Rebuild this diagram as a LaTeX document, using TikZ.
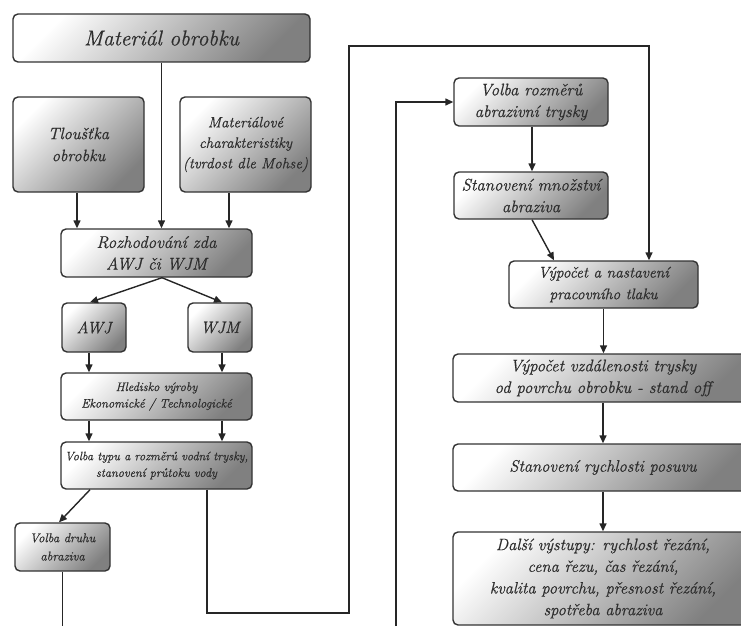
\documentclass[tikz,border=0pt]{standalone}
\usepackage{fontspec}
\setmainfont{Latin Modern Roman}[ItalicFeatures={FakeBold=0.6}]
\usetikzlibrary{arrows.meta,calc}
\newcommand\fsz[2]{\fontsize{#1}{#2}\selectfont\itshape}
\tikzset{
  box/.style={draw=black!80, line width=1.4pt, rounded corners=5pt,
    top color=white, bottom color=black!50, shading angle=45,
    align=center, inner sep=0pt, text=black!82},
  conn/.style={draw=black!85, line width=1.4pt},
  arr/.style={conn, -{Triangle[length=8pt,width=7pt]}}
}
\begin{document}
\begin{tikzpicture}[x=1pt,y=-1pt]
\useasboundingbox (0,0) rectangle (741,626);
\clip (0,0) rectangle (741,626);
% left column
\node[box, minimum width=297pt, minimum height=48pt, font=\fsz{21.5}{25}] (mat) at (161.5,38) {Materiál obrobku};
\node[box, minimum width=131pt, minimum height=95pt, font=\fsz{16.5}{22}] (tlo) at (78.5,144.5) {Tloušťka\\obrobku};
\node[box, minimum width=131pt, minimum height=95pt, font=\fsz{15}{20.5}] (char) at (245.5,144.5) {Materiálové\\charakteristiky\\(tvrdost dle Mohse)};
\node[box, minimum width=191pt, minimum height=48pt, font=\fsz{17}{21.6}] (roz) at (156.5,253) {Rozhodování zda\\AWJ či WJM};
\node[box, minimum width=64pt, minimum height=49pt, font=\fsz{16.5}{20}] (awj) at (94,327.5) {AWJ};
\node[box, minimum width=64pt, minimum height=49pt, font=\fsz{16.5}{20}] (wjm) at (220,327.5) {WJM};
\node[box, minimum width=191pt, minimum height=47pt, font=\fsz{12.4}{16.5}] (hled) at (156.5,396.5) {Hledisko výroby\\Ekonomické / Technologické};
\node[box, minimum width=191pt, minimum height=47pt, font=\fsz{12.3}{16.6}] (volt) at (156.5,465.5) {Volba typu a rozměrů vodní trysky,\\stanovení průtoku vody};
\node[box, minimum width=95pt, minimum height=48pt, font=\fsz{12.8}{18.3}] (vold) at (62.5,547) {Volba druhu\\abraziva};
% right column
\node[box, minimum width=154pt, minimum height=48pt, font=\fsz{16.8}{21.7}] (volr) at (531,102) {Volba rozměrů\\abrazivní trysky};
\node[box, minimum width=154pt, minimum height=47pt, font=\fsz{16.8}{21.7}] (stm) at (531,195.5) {Stanovení množství\\abraziva};
\node[box, minimum width=189pt, minimum height=47pt, font=\fsz{15.5}{21.7}] (vyp) at (603.5,284.5) {Výpočet a nastavení\\pracovního tlaku};
\node[box, minimum width=300pt, minimum height=48pt, font=\fsz{16.8}{21.7}] (vzd) at (603,378) {Výpočet vzdálenosti trysky\\od povrchu obrobku - stand off};
\node[box, minimum width=300pt, minimum height=47pt, font=\fsz{16.5}{21.7}] (ryc) at (603,467.5) {Stanovení rychlosti posuvu};
\node[box, minimum width=300pt, minimum height=93pt, font=\fsz{16.5}{21.7}] (dal) at (603,578.5) {Další výstupy: rychlost řezání,\\cena řezu, čas řezání,\\kvalita povrchu, přesnost řezání,\\spotřeba abraziva};
% helper coordinates
\coordinate (bot) at (0,626);
\coordinate (tls) at ([xshift=-1.5pt]tlo.south);
\coordinate (chs) at ([xshift=-16.5pt]char.south);
\coordinate (rzs) at ([xshift=5.5pt]roz.south);
\coordinate (aws) at ([xshift=-5pt]awj.south);
\coordinate (wjs) at ([xshift=2pt]wjm.south);
\coordinate (hl1) at (aws |- hled.south);
\coordinate (hl2) at (wjs |- hled.south);
\coordinate (vts) at ([xshift=50.5pt]volt.south);
\coordinate (lp1) at (349,613);
\coordinate (lp2) at (349,46);
\coordinate (vyn) at ([xshift=45.5pt]vyp.north);
\coordinate (il) at (396,626);
\coordinate (vrs) at ([xshift=1pt]volr.south);
% connectors
\draw[arr] (mat.south) -- (mat.south |- roz.north);
\draw[arr] (tls) -- (tls |- roz.north);
\draw[arr] (chs) -- (chs |- roz.north);
\draw[arr] (rzs) -- ([xshift=-4pt]awj.north);
\draw[arr] (rzs) -- ([xshift=2pt]wjm.north);
\draw[arr] (aws) -- (aws |- hled.north);
\draw[arr] (wjs) -- (wjs |- hled.north);
\draw[arr] (hl1) -- (hl1 |- volt.north);
\draw[arr] (hl2) -- (hl2 |- volt.north);
\draw[arr] ([xshift=-66.5pt]volt.south) -- ([xshift=-3.5pt]vold.north);
\draw[conn] (vold.south) -- (vold.south |- bot);
\draw[arr] (vts) |- (lp1) -- (lp2) -| (vyn);
\draw[arr] (il) |- (volr.west);
\draw[arr] (vrs) -- (vrs |- stm.north);
\draw[arr] ([xshift=1pt]stm.south) -- ([xshift=-49.5pt]vyp.north);
\draw[arr] (vyp.south) -- (vyp.south |- vzd.north);
\draw[arr] (vzd.south) -- (ryc.north);
\draw[arr] (ryc.south) -- (dal.north);
\end{tikzpicture}
\end{document}
